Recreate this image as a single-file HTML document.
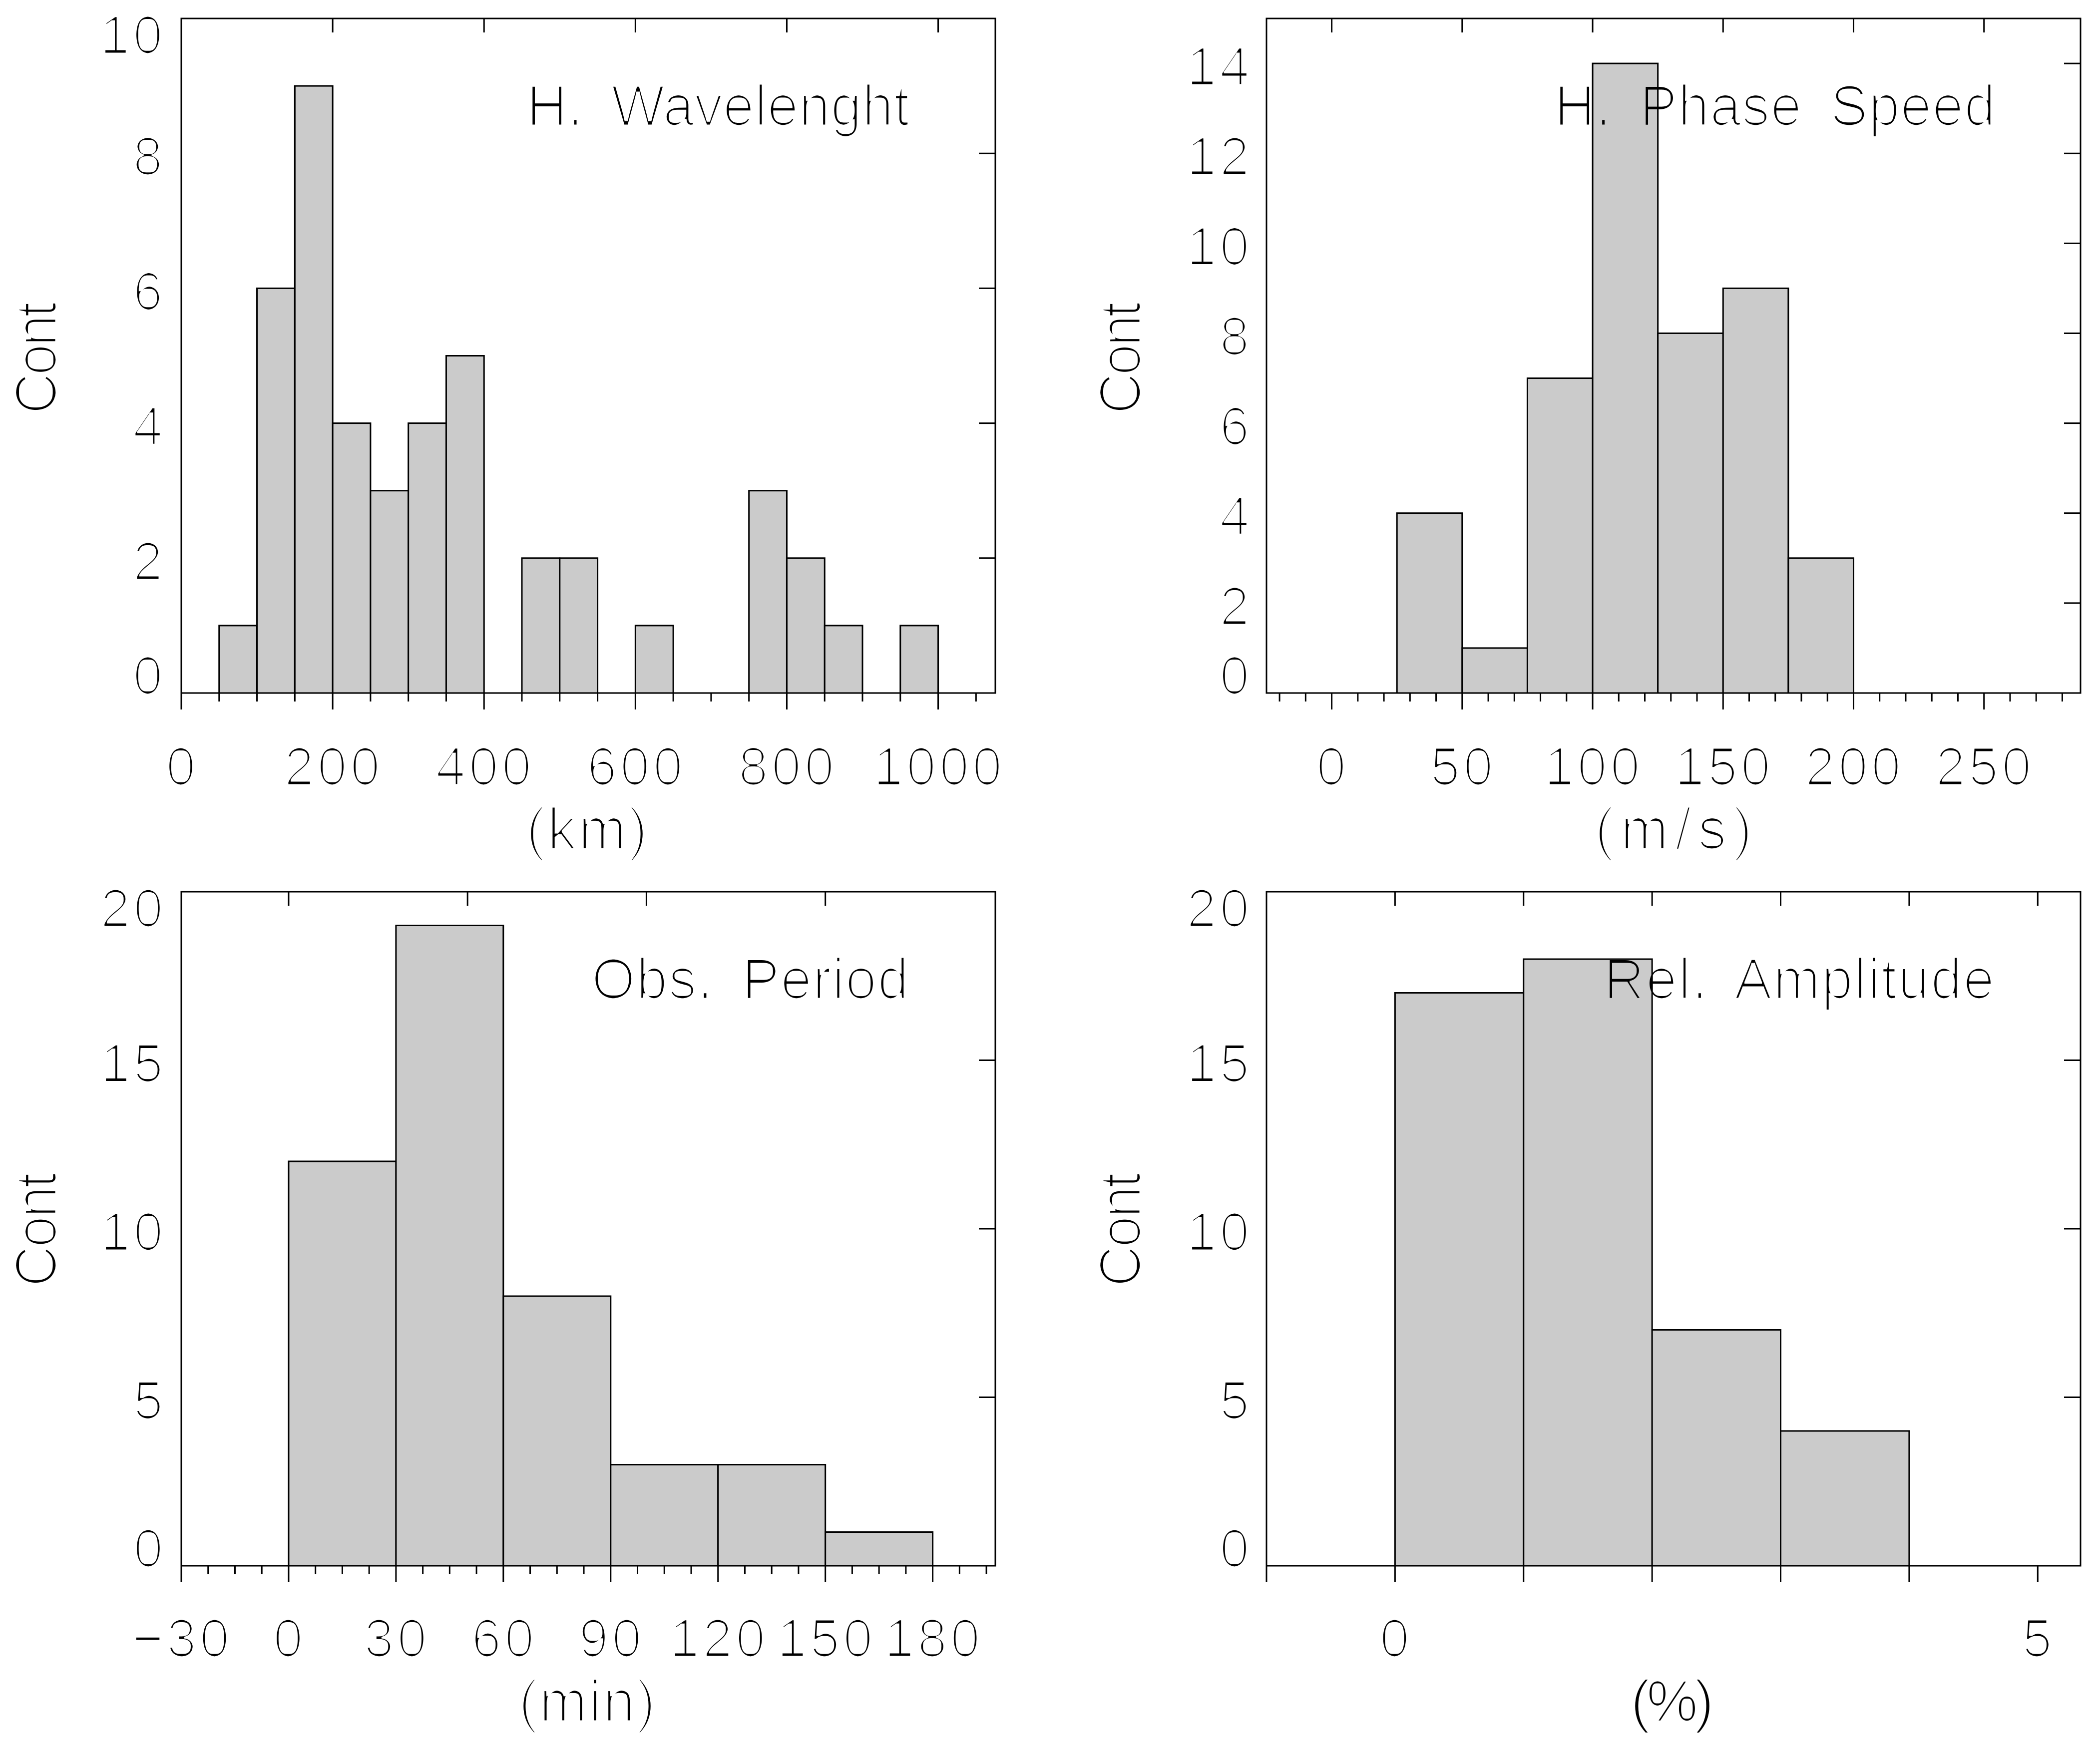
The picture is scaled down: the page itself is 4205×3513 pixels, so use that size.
<!DOCTYPE html>
<html lang="en">
<head>
<meta charset="utf-8">
<title>Gravity wave parameter histograms</title>
<style>
html,body{margin:0;padding:0;background:#fff;width:4205px;height:3513px;overflow:hidden}
svg{display:block}
text{font-family:"Liberation Sans",sans-serif;fill:#000}
.tick{font-size:108px;letter-spacing:6px}
.title{font-size:114px;word-spacing:24px}
.axis{font-size:116px}
</style>
</head>
<body>
<svg id="figure" xmlns="http://www.w3.org/2000/svg" width="4205" height="3513" viewBox="0 0 4205 3513">
<defs>
<filter id="thin" x="-5%" y="-15%" width="110%" height="130%" color-interpolation-filters="sRGB">
<feMorphology operator="erode" radius="3 1.5"/>
</filter>
<filter id="thinner" x="-5%" y="-15%" width="110%" height="130%" color-interpolation-filters="sRGB">
<feMorphology operator="erode" radius="2 1"/>
</filter>
</defs>
<rect width="4205" height="3513" fill="#fff"/>
<g id="marks"></g>
<g>
<text class="title" x="1054" y="251" textLength="767" lengthAdjust="spacing" filter="url(#thin)">H. Wavelenght</text>
<text class="title" x="3112" y="251" textLength="884" lengthAdjust="spacing" filter="url(#thin)">H. Phase Speed</text>
<text class="title" x="1184" y="2000" textLength="636" lengthAdjust="spacing" filter="url(#thin)">Obs. Period</text>
<text class="title" x="3211" y="2000" textLength="783" lengthAdjust="spacing" filter="url(#thin)">Rel. Amplitude</text>
</g>
<g>
<text class="axis" x="1053" y="1700" textLength="244" lengthAdjust="spacing" filter="url(#thin)">(km)</text>
<text class="axis" x="3193" y="1700" textLength="316" lengthAdjust="spacing" filter="url(#thin)">(m/s)</text>
<text class="axis" x="1038" y="3447" textLength="275" lengthAdjust="spacing" filter="url(#thin)">(min)</text>
<text class="axis" x="3265" y="3447" textLength="167" lengthAdjust="spacing" filter="url(#thinner)">(%)</text>
</g>
<g>
<g transform="translate(112 830) rotate(-90)"><text class="axis" x="0" y="0" textLength="226" lengthAdjust="spacing" filter="url(#thin)">Cont</text></g>
<g transform="translate(2283 830) rotate(-90)"><text class="axis" x="0" y="0" textLength="226" lengthAdjust="spacing" filter="url(#thin)">Cont</text></g>
<g transform="translate(112 2578) rotate(-90)"><text class="axis" x="0" y="0" textLength="230" lengthAdjust="spacing" filter="url(#thin)">Cont</text></g>
<g transform="translate(2283 2578) rotate(-90)"><text class="axis" x="0" y="0" textLength="230" lengthAdjust="spacing" filter="url(#thin)">Cont</text></g>
</g>
</svg>
<script>
// Panel A: horizontal wavelength (km)
const wavelengthEdges = [50,100,150,200,250,300,350,400,450,500,550,600,650,700,750,800,850,900,950,1000];
const wavelengthCounts = [1,6,9,4,3,4,5,0,2,2,0,1,0,0,3,2,1,0,1];
const wavelengthXTicks = [0,200,400,600,800,1000];
const wavelengthXMinor = [50,100,150,250,300,350,450,500,550,650,700,750,850,900,950,1050];
const wavelengthXTop = [200,400,600,800,1000];
const wavelengthYTicks = [0,2,4,6,8,10];

// Panel B: horizontal phase speed (m/s)
const speedEdges = [25,50,75,100,125,150,175,200];
const speedCounts = [4,1,7,14,8,9,3];
const speedXTicks = [0,50,100,150,200,250];
const speedXMinor = [-20,-10,10,20,30,40,60,70,80,90,110,120,130,140,160,170,180,190,210,220,230,240,260,270,280];
const speedXTop = [0,50,100,150,200,250];
const speedYTicks = [0,2,4,6,8,10,12,14];

// Panel C: observed period (min)
const periodEdges = [0,30,60,90,120,150,180];
const periodCounts = [12,19,8,3,3,1];
const periodXTicks = [-30,0,30,60,90,120,150,180];
const periodXMinor = [-22.5,-15,-7.5,7.5,15,22.5,37.5,45,52.5,67.5,75,82.5,97.5,105,112.5,127.5,135,142.5,157.5,165,172.5,187.5,195];
const periodXTop = [0,50,100,150];
const periodYTicks = [0,5,10,15,20];

// Panel D: relative amplitude (%)
const amplitudeEdges = [0,1,2,3,4];
const amplitudeCounts = [17,18,7,4];
const amplitudeXLabelled = [0,5];
const amplitudeXUnlabelled = [-1,1,2,3,4];
const amplitudeXMinor = [];
const amplitudeXTop = [0,1,2,3,4,5];
const amplitudeYTicks = [0,5,10,15,20];

const SVG_NS = 'http://www.w3.org/2000/svg';
const marks = document.getElementById('marks');

function add(parent, tag, attrs) {
  const el = document.createElementNS(SVG_NS, tag);
  for (const k in attrs) el.setAttribute(k, attrs[k]);
  parent.appendChild(el);
  return el;
}

function drawPanel(cfg) {
  const sx = v => cfg.left + (v - cfg.xMin) / (cfg.xMax - cfg.xMin) * (cfg.right - cfg.left);
  const sy = v => cfg.bottom - (v - cfg.yMin) / (cfg.yMax - cfg.yMin) * (cfg.bottom - cfg.top);

  const g = add(marks, 'g', {});
  
  

  cfg.counts.forEach((c, i) => {
    if (c <= 0) return;
    const x0 = sx(cfg.edges[i]);
    const x1 = sx(cfg.edges[i + 1]);
    const bar = add(g, 'rect', {x: x0, y: sy(c), width: x1 - x0, height: sy(0) - sy(c), fill: '#cbcbcb', stroke: '#000', 'stroke-width': 3});
    
    
  });

  const frame = add(g, 'rect', {x: cfg.left, y: cfg.top, width: cfg.right - cfg.left, height: cfg.bottom - cfg.top, fill: 'none', stroke: '#000', 'stroke-width': 3});
  
  

  cfg.xMajor.concat(cfg.xUnlabelled).forEach(v => {
    const t = add(g, 'line', {x1: sx(v), x2: sx(v), y1: cfg.bottom, y2: cfg.bottom + 33, stroke: '#000', 'stroke-width': 3});
    
    
  });
  cfg.xMinor.forEach(v => {
    const t = add(g, 'line', {x1: sx(v), x2: sx(v), y1: cfg.bottom, y2: cfg.bottom + 17, stroke: '#000', 'stroke-width': 3});
    
    
  });
  cfg.xTop.forEach(v => {
    const t = add(g, 'line', {x1: sx(v), x2: sx(v), y1: cfg.top, y2: cfg.top + 28, stroke: '#000', 'stroke-width': 3});
    
    
  });
  cfg.yTicks.forEach(v => {
    if (v === cfg.yMin || v === cfg.yMax) return;
    const t = add(g, 'line', {x1: cfg.right - 33, x2: cfg.right, y1: sy(v), y2: sy(v), stroke: '#000', 'stroke-width': 3});
    
    
  });

  cfg.xMajor.forEach(v => {
    const label = add(g, 'text', {class: 'tick', x: sx(v) + 2, y: cfg.xLabelY, 'text-anchor': 'middle', filter: 'url(#thin)'});
    label.textContent = v < 0 ? '\u2212' + Math.abs(v) : String(v);
    
    
  });
  cfg.yTicks.forEach(v => {
    let dy = 43;
    if (v === cfg.yMin) dy = 2;
    if (v === cfg.yMax) dy = 70;
    const label = add(g, 'text', {class: 'tick', x: cfg.yLabelX + 12, y: sy(v) + dy, 'text-anchor': 'end', filter: 'url(#thin)'});
    label.textContent = String(v);
    
    
  });
}

drawPanel({name: 'wavelength', left: 363, right: 1993, top: 37, bottom: 1388, xMin: 0, xMax: 1075.5, yMin: 0, yMax: 10,
  edges: wavelengthEdges, counts: wavelengthCounts, xMajor: wavelengthXTicks, xUnlabelled: [], xMinor: wavelengthXMinor,
  xTop: wavelengthXTop, yTicks: wavelengthYTicks, xLabelY: 1572, yLabelX: 320});
drawPanel({name: 'speed', left: 2536, right: 4166, top: 37, bottom: 1388, xMin: -25, xMax: 287, yMin: 0, yMax: 15,
  edges: speedEdges, counts: speedCounts, xMajor: speedXTicks, xUnlabelled: [], xMinor: speedXMinor,
  xTop: speedXTop, yTicks: speedYTicks, xLabelY: 1572, yLabelX: 2496});
drawPanel({name: 'period', left: 363, right: 1993, top: 1786, bottom: 3136, xMin: -30, xMax: 197.5, yMin: 0, yMax: 20,
  edges: periodEdges, counts: periodCounts, xMajor: periodXTicks, xUnlabelled: [], xMinor: periodXMinor,
  xTop: periodXTop, yTicks: periodYTicks, xLabelY: 3318, yLabelX: 321});
drawPanel({name: 'amplitude', left: 2536, right: 4166, top: 1786, bottom: 3136, xMin: -1, xMax: 5.333, yMin: 0, yMax: 20,
  edges: amplitudeEdges, counts: amplitudeCounts, xMajor: amplitudeXLabelled, xUnlabelled: amplitudeXUnlabelled, xMinor: amplitudeXMinor,
  xTop: amplitudeXTop, yTicks: amplitudeYTicks, xLabelY: 3318, yLabelX: 2496});
</script>
</body>
</html>
